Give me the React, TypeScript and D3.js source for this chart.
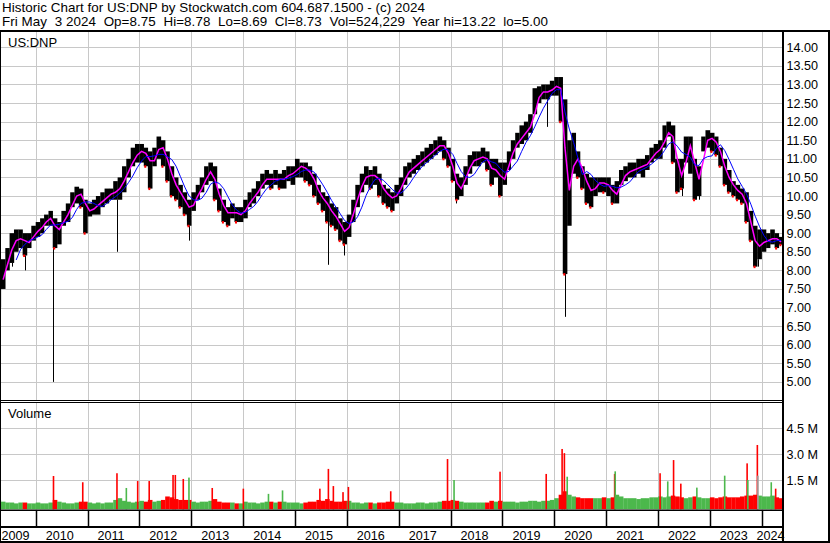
import * as d3 from "d3";

// monthly bars, first bar = Apr 2009
const firstMonth = new Date(2009, 3, 1);

const closes = [
  7.5, 8.0, 8.3, 8.8, 8.8, 8.9, 8.7, 8.8, 9.0,
  9.1, 9.2, 9.4, 9.4, 9.0, 9.2, 9.4, 9.6, 9.9, 10.1, 10.0, 9.6,
  9.6, 9.7, 9.8, 9.9, 10.0, 10.1, 10.1, 10.3, 10.5, 10.8, 11.0, 11.2,
  11.2, 11.1, 10.8, 11.1, 11.4, 11.2, 10.8, 10.4, 10.2, 10.0, 9.8, 9.6,
  9.9, 10.1, 10.3, 10.6, 10.7, 10.2, 9.9, 9.6, 9.5, 9.6, 9.5, 9.5,
  9.7, 9.9, 10.0, 10.2, 10.4, 10.5, 10.4, 10.5, 10.4, 10.5, 10.6, 10.6,
  10.8, 10.8, 10.7, 10.6, 10.3, 10.0, 9.9, 9.7, 9.5, 9.4, 9.1, 9.0,
  9.3, 9.7, 10.1, 10.4, 10.6, 10.5, 10.6, 10.3, 10.1, 10.0, 9.9, 10.1,
  10.3, 10.6, 10.7, 10.8, 10.9, 11.0, 11.1, 11.2, 11.3, 11.4, 11.3, 11.0,
  10.6, 10.1, 10.3, 10.6, 10.9, 11.0, 11.0, 11.1, 10.9, 10.6, 10.8, 10.3,
  10.6, 11.0, 11.3, 11.5, 11.6, 11.8, 11.9, 12.5, 12.8, 12.8, 12.8, 12.9,
  13.0, 12.8, 9.8, 10.5, 11.1, 10.9, 10.6, 10.2, 10.1, 10.3, 10.4, 10.3,
  10.3, 10.0, 10.1, 10.5, 10.6, 10.7, 10.7, 10.8, 10.8, 10.9, 11.1, 11.2,
  11.3, 11.6, 11.8, 11.4, 10.6, 10.5, 11.3, 11.4, 10.4, 10.5, 11.4, 11.6,
  11.5, 11.4, 11.0, 10.6, 10.4, 10.2, 10.1, 10.0, 9.6, 9.0, 8.6, 8.7,
  8.8, 8.8, 8.9, 8.8, 8.73,
];

const highs = [
  7.9, 8.3, 8.6, 9.0, 9.1, 9.1, 9.0, 9.0, 9.2,
  9.3, 9.4, 9.5, 9.6, 9.4, 9.3, 9.6, 9.8, 10.1, 10.25, 10.2, 9.9,
  9.8, 9.9, 10.0, 10.1, 10.2, 10.2, 10.4, 10.5, 10.8, 11.0, 11.3, 11.4,
  11.4, 11.3, 11.2, 11.3, 11.6, 11.5, 11.2, 10.8, 10.5, 10.3, 10.1, 9.9,
  10.1, 10.3, 10.5, 10.8, 10.9, 10.8, 10.2, 9.9, 9.7, 9.8, 9.7, 9.7,
  9.9, 10.1, 10.2, 10.4, 10.6, 10.7, 10.6, 10.7, 10.6, 10.7, 10.8, 10.8,
  11.0, 10.9, 10.9, 10.8, 10.6, 10.3, 10.1, 10.0, 9.8, 9.7, 9.4, 9.3,
  9.5, 9.9, 10.3, 10.6, 10.8, 10.7, 10.8, 10.6, 10.3, 10.2, 10.1, 10.3,
  10.5, 10.8, 10.9, 11.0, 11.1, 11.2, 11.3, 11.4, 11.5, 11.6, 11.5, 11.3,
  11.0, 10.6, 10.5, 10.8, 11.1, 11.2, 11.2, 11.3, 11.2, 11.0, 11.0, 10.9,
  10.9, 11.2, 11.5, 11.7, 11.9, 12.0, 12.2, 12.9, 12.95, 13.0, 13.0, 13.1,
  13.2, 13.2, 12.6, 11.5, 11.7, 11.2, 10.8, 10.6, 10.5, 10.5, 10.5, 10.5,
  10.5, 10.3, 10.4, 10.7, 10.8, 10.9, 10.9, 11.0, 11.0, 11.1, 11.3, 11.4,
  11.5, 11.9, 12.0, 11.9, 11.0, 11.0, 11.6, 11.6, 11.0, 10.8, 11.6, 11.77,
  11.7, 11.6, 11.3, 11.0, 10.7, 10.4, 10.3, 10.2, 10.1, 9.6, 9.2, 9.1,
  9.1, 9.0, 9.1, 9.0, 8.9,
];

const lows = [
  7.0, 7.5, 8.0, 8.2, 8.5, 8.6, 8.4, 8.6, 8.8,
  8.9, 9.0, 9.2, 9.2, 8.6, 8.7, 9.2, 9.3, 9.7, 9.8, 9.7, 9.0,
  9.45, 9.5, 9.5, 9.7, 9.8, 9.9, 9.9, 9.9, 10.1, 10.5, 10.8, 10.9,
  10.9, 10.8, 10.2, 10.8, 11.0, 10.8, 10.4, 10.0, 9.9, 9.7, 9.5, 9.2,
  9.6, 9.9, 10.1, 10.3, 10.4, 9.9, 9.6, 9.3, 9.2, 9.4, 9.3, 9.3,
  9.4, 9.7, 9.8, 10.0, 10.2, 10.3, 10.2, 10.3, 10.2, 10.2, 10.4, 10.3,
  10.5, 10.5, 10.4, 10.3, 10.0, 9.8, 9.6, 9.3, 9.2, 9.1, 8.8, 8.7,
  8.9, 9.3, 9.7, 10.1, 10.3, 10.2, 10.3, 10.0, 9.8, 9.7, 9.6, 9.8,
  10.0, 10.3, 10.5, 10.6, 10.7, 10.8, 10.9, 11.0, 11.1, 11.2, 11.0, 10.8,
  10.4, 9.9, 10.0, 10.3, 10.6, 10.8, 10.8, 10.9, 10.7, 10.3, 10.5, 10.0,
  10.3, 10.7, 11.0, 11.3, 11.4, 11.5, 11.7, 12.2, 12.5, 12.6, 12.6, 12.7,
  12.7, 12.0, 7.9, 9.2, 10.6, 10.5, 10.2, 9.8, 9.7, 10.0, 10.1, 10.1,
  10.0, 9.8, 9.8, 10.3, 10.4, 10.5, 10.5, 10.6, 10.5, 10.7, 10.9, 11.0,
  11.0, 11.3, 11.6, 10.9, 10.1, 10.2, 10.9, 10.6, 9.9, 10.0, 11.2, 11.3,
  11.2, 11.1, 10.8, 10.3, 10.1, 10.0, 9.9, 9.8, 9.3, 8.8, 8.1, 8.3,
  8.5, 8.6, 8.7, 8.6, 8.69,
];

// monthly volume carpet, millions
const volumes = [
  0.35, 0.25, 0.2, 0.2, 0.15, 0.2, 0.2, 0.15, 0.15,
  0.2, 0.15, 0.15, 0.2, 0.35, 0.25, 0.2, 0.15, 0.15, 0.2, 0.25, 0.25,
  0.2, 0.15, 0.2, 0.15, 0.2, 0.2, 0.35, 0.45, 0.3, 0.25, 0.2, 0.25,
  0.3, 0.25, 0.35, 0.25, 0.3, 0.35, 0.55, 0.5, 0.4, 0.35, 0.35, 0.35,
  0.25, 0.2, 0.25, 0.25, 0.3, 0.4, 0.25, 0.2, 0.2, 0.2, 0.15, 0.15,
  0.25, 0.2, 0.2, 0.15, 0.2, 0.25, 0.25, 0.2, 0.25, 0.25, 0.2, 0.2,
  0.2, 0.15, 0.2, 0.25, 0.25, 0.35, 0.3, 0.4, 0.3, 0.25, 0.25, 0.3,
  0.3, 0.2, 0.2, 0.15, 0.2, 0.2, 0.15, 0.2, 0.2, 0.25, 0.25, 0.2,
  0.2, 0.15, 0.15, 0.15, 0.2, 0.2, 0.15, 0.2, 0.2, 0.25, 0.3, 0.3,
  0.35, 0.3, 0.25, 0.2, 0.2, 0.2, 0.2, 0.2, 0.2, 0.3, 0.25, 0.3,
  0.25, 0.25, 0.25, 0.2, 0.25, 0.25, 0.3, 0.3, 0.25, 0.3, 0.3, 0.35,
  0.45, 0.65, 0.85, 0.65, 0.55, 0.5, 0.45, 0.45, 0.45, 0.45, 0.45, 0.5,
  0.45, 0.5, 0.65, 0.55, 0.45, 0.45, 0.45, 0.4, 0.45, 0.45, 0.5, 0.5,
  0.55, 0.5, 0.55, 0.6, 0.55, 0.5, 0.45, 0.5, 0.55, 0.5, 0.45, 0.45,
  0.5, 0.45, 0.5, 0.55, 0.5, 0.5, 0.5, 0.55, 0.6, 0.6, 0.65, 0.6,
  0.55, 0.55, 0.6, 0.5, 0.45,
];

// thin intraday drops below the monthly body
const priceSpikes: [string, number][] = [
  ["2009-07-20", 8.1],
  ["2009-10-20", 8.0],
  ["2010-05-06", 5.0],
  ["2011-07-27", 8.5],
  ["2012-12-15", 8.8],
  ["2015-08-24", 8.15],
  ["2015-12-14", 8.4],
  ["2018-02-08", 9.8],
  ["2019-11-10", 11.86],
  ["2020-03-18", 6.75],
  ["2022-06-16", 10.0],
  ["2022-10-13", 9.9],
  ["2023-12-05", 8.1],
];

// single-day volume spikes: date, millions, u/d/n
const volumeSpikes: [string, number, string][] = [
  ["2010-05-06", 1.73, "d"],
  ["2010-11-28", 1.37, "d"],
  ["2011-07-27", 1.89, "d"],
  ["2011-10-01", 1.04, "u"],
  ["2011-12-20", 1.44, "d"],
  ["2012-03-10", 1.44, "d"],
  ["2012-08-25", 1.79, "d"],
  ["2012-09-10", 1.79, "d"],
  ["2012-11-05", 1.56, "d"],
  ["2012-12-15", 1.64, "u"],
  ["2013-05-28", 1.04, "d"],
  ["2014-01-02", 1.0, "d"],
  ["2014-06-28", 0.7, "u"],
  ["2014-10-05", 0.9, "u"],
  ["2015-06-25", 1.0, "d"],
  ["2015-08-24", 2.14, "d"],
  ["2015-09-28", 1.15, "d"],
  ["2015-12-05", 0.8, "d"],
  ["2016-01-12", 1.1, "d"],
  ["2016-11-05", 0.85, "d"],
  ["2017-12-10", 2.71, "d"],
  ["2018-01-25", 1.5, "u"],
  ["2018-12-15", 1.98, "d"],
  ["2019-11-05", 1.85, "d"],
  ["2020-02-25", 3.29, "d"],
  ["2020-03-12", 3.05, "d"],
  ["2020-04-01", 1.69, "u"],
  ["2021-03-01", 1.85, "d"],
  ["2021-03-05", 2.0, "u"],
  ["2022-01-15", 1.89, "d"],
  ["2022-03-10", 1.42, "u"],
  ["2022-04-20", 2.65, "d"],
  ["2022-06-10", 1.29, "d"],
  ["2022-10-01", 1.06, "u"],
  ["2023-04-15", 1.75, "u"],
  ["2023-09-20", 2.46, "d"],
  ["2023-09-25", 1.5, "u"],
  ["2023-12-01", 3.52, "d"],
  ["2023-12-05", 1.75, "n"],
  ["2024-03-08", 1.37, "u"],
  ["2024-04-08", 1.0, "d"],
];

const years = d3.range(2009, 2025);
const priceTicks = d3.range(5, 14.001, 0.5);
const volumeTicks = [1.5, 3.0, 4.5];

const title = "Historic Chart for US:DNP by Stockwatch.com 604.687.1500 - (c) 2024";
const subtitle = "Fri May  3 2024  Op=8.75  Hi=8.78  Lo=8.69  Cl=8.73  Vol=524,229  Year hi=13.22  lo=5.00";

const FONT = "'Liberation Sans', Arial, sans-serif";
const GRID = "#c8c8c8";
const RED = "#ff0000";
const GREEN = "#4cb84c";

export default function App() {
  const W = 830;
  const H = 543;
  const plotR = 782;
  const priceTop = 32;
  const priceBot = 400;
  const volTop = 403;
  const volBot = 509.5;

  const x = d3.scaleTime().domain([new Date(2010, 0, 1), new Date(2024, 0, 1)]).range([35.7, 761.7]);
  const y = d3.scaleLinear().domain([5, 14]).range([381.9, 47.3]);
  const yv = d3.scaleLinear().domain([0, 6]).range([506, 402]);

  const months = closes.map((_, i) => d3.timeMonth.offset(firstMonth, i));
  const mid = (i: number) => (x(months[i]) + x(d3.timeMonth.offset(months[i], 1))) / 2;
  const mw = (i: number) => x(d3.timeMonth.offset(months[i], 1)) - x(months[i]);
  const monthIndex = (d: Date) => d3.timeMonth.count(firstMonth, d);

  const avg = (n: number) =>
    closes.map((_, i) => (i < n - 1 ? null : (d3.mean(closes.slice(i - n + 1, i + 1)) as number)));
  const fast = avg(2);
  const slow = avg(5);
  const line = d3
    .line<number | null>()
    .defined((d) => d != null)
    .x((_, i) => mid(i))
    .y((d) => y(d as number));

  const dir = (i: number) => (i === 0 || closes[i] >= closes[i - 1] ? "u" : "d");
  const volColor = (c: string) => (c === "u" ? GREEN : c === "d" ? RED : "#a0a0a0");

  return (
    <svg
      width={W}
      height={H}
      style={{ position: "absolute", left: 0, top: 0, background: "#fff" }}
      fontFamily={FONT}
    >
      <defs>
        <clipPath id="pclip">
          <rect x={0} y={priceTop} width={plotR} height={priceBot - priceTop} />
        </clipPath>
        <clipPath id="vclip">
          <rect x={0} y={volTop} width={plotR} height={volBot - volTop} />
        </clipPath>
      </defs>

      <text x={2} y={12} fontSize={13.4} fill="#000" textLength={423} lengthAdjust="spacing">{title}</text>
      <text x={2} y={26} fontSize={13.4} fill="#000" style={{ whiteSpace: "pre" }} textLength={546} lengthAdjust="spacing">
        {subtitle}
      </text>

      {/* grid */}
      {priceTicks.map((t) => (
        <line key={"hp" + t} x1={0} x2={plotR} y1={Math.round(y(t)) + 0.5} y2={Math.round(y(t)) + 0.5} stroke={GRID} />
      ))}
      {volumeTicks.map((t) => (
        <line key={"hv" + t} x1={0} x2={plotR} y1={Math.round(yv(t)) + 0.5} y2={Math.round(yv(t)) + 0.5} stroke={GRID} />
      ))}
      {years.slice(1).map((yr) => {
        const gx = Math.round(x(new Date(yr, 0, 1))) + 0.5;
        return (
          <g key={"vg" + yr}>
            <line x1={gx} x2={gx} y1={priceTop} y2={priceBot} stroke={GRID} />
            <line x1={gx} x2={gx} y1={volTop} y2={volBot} stroke={GRID} />
            <line x1={gx} x2={gx} y1={510} y2={527} stroke="#000" strokeWidth={1.5} />
          </g>
        );
      })}

      <text x={8} y={47} fontSize={13} fill="#000">US:DNP</text>
      <text x={8} y={418} fontSize={13} fill="#000">Volume</text>

      {/* price */}
      <g clipPath="url(#pclip)">
        {closes.map((c, i) => (
          <rect
            key={"b" + i}
            x={x(months[i])}
            width={mw(i) + 0.2}
            y={y(highs[i])}
            height={y(lows[i]) - y(highs[i])}
            fill="#000"
          />
        ))}
        {priceSpikes.map(([d, v]) => {
          const dt = new Date(d);
          const sx = Math.round(x(dt)) + 0.5;
          return <line key={"s" + d} x1={sx} x2={sx} y1={y(lows[monthIndex(dt)])} y2={y(v)} stroke="#000" />;
        })}
        {closes.map((c, i) =>
          dir(i) === "d" ? (
            <rect key={"r" + i} x={x(months[i]) + 0.5} width={2} y={y(lows[i]) - 1} height={2.5} fill={RED} />
          ) : null
        )}
        <path d={line(fast) ?? ""} fill="none" stroke="#ff00ff" strokeWidth={1.5} />
        <path d={line(slow) ?? ""} fill="none" stroke="#0000ff" strokeWidth={1} />
      </g>

      {/* volume */}
      <g clipPath="url(#vclip)">
        {volumes.map((v, i) => (
          <rect
            key={"v" + i}
            x={x(months[i])}
            width={mw(i) + 0.2}
            y={yv(v)}
            height={volBot - yv(v)}
            fill={volColor(dir(i))}
          />
        ))}
        {volumeSpikes.map(([d, v, c]) => (
          <rect key={"vs" + d} x={x(new Date(d)) - 0.75} width={1.6} y={yv(v)} height={volBot - yv(v)} fill={volColor(c)} />
        ))}
      </g>

      {/* right axis labels */}
      {priceTicks.map((t) => (
        <text key={"pl" + t} x={786.5} y={y(t) + 4.5} fontSize={12.6} fill="#000">{t.toFixed(2)}</text>
      ))}
      {volumeTicks.map((t) => (
        <text key={"vl" + t} x={786.5} y={yv(t) + 4.5} fontSize={12.6} fill="#000">{t.toFixed(1) + " M"}</text>
      ))}

      {/* year labels */}
      {years.map((yr) => {
        const lx = Math.min(Math.max(x(new Date(yr, 0, 1)) + 10, 1.5), 756.5);
        return (
          <text key={"yl" + yr} x={lx} y={539.5} fontSize={12.6} fill="#000">{yr}</text>
        );
      })}

      {/* frame */}
      <rect x={0} y={30} width={W} height={2} fill="#000" />
      <rect x={0} y={30} width={1} height={513} fill="#000" />
      <rect x={plotR} y={30} width={2} height={513} fill="#000" />
      <rect x={828} y={30} width={2} height={513} fill="#000" />
      <line x1={0} x2={plotR} y1={400.5} y2={400.5} stroke="#000" />
      <line x1={0} x2={plotR} y1={402.5} y2={402.5} stroke="#000" />
      <rect x={0} y={509.5} width={plotR} height={1.5} fill="#000" />
      <rect x={0} y={526} width={plotR} height={2} fill="#000" />
      <rect x={0} y={541} width={W} height={2} fill="#000" />
    </svg>
  );
}
